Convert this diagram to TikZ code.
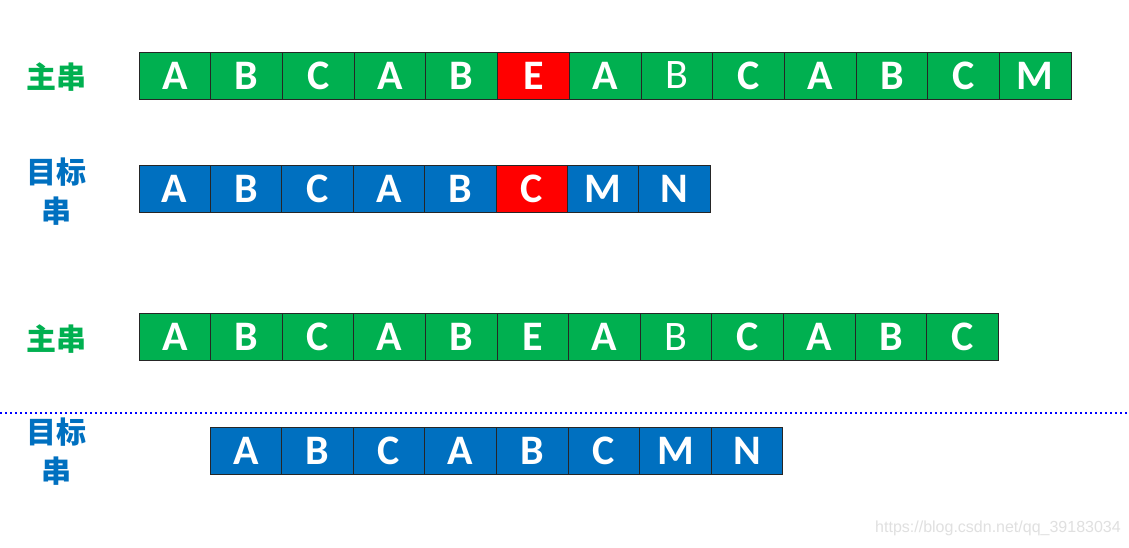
\documentclass[tikz,border=0pt]{standalone}
\usepackage{fontspec}
\setmainfont{Carlito}
\newfontfamily\cjk{Noto Sans CJK SC}
\newfontfamily\wmfont{Liberation Sans}
\usepackage{xcolor}
\usepackage{tikz}
\definecolor{mgreen}{HTML}{00B050}
\definecolor{tblue}{HTML}{0070C0}
\definecolor{mred}{HTML}{FF0000}

\begin{document}
\begin{tikzpicture}[x=1pt, y=1pt,
    cell/.style={draw=black!85, line width=.8pt, minimum width=71.7pt, minimum height=47pt,
        inner sep=0pt, outer sep=0pt, text=white, font=\fontsize{42}{42}\selectfont\bfseries},
    thin/.style={font=\fontsize{42}{42}\selectfont\mdseries},
    mcell/.style={cell, fill=mgreen},
    tcell/.style={cell, fill=tblue},
    rcell/.style={cell, fill=mred},
    tag/.style={font=\fontsize{30}{39}\selectfont\cjk\bfseries, align=center, inner sep=0pt}]
            \useasboundingbox[fill=white] (0, 0) rectangle (1129, -547);

            % first try: mismatch at E / C
            \node[tag, text=mgreen] (lm1) at (57, -77) {主串};
            \node[mcell] (m1) at (174.85, -75.5) {A};
            \node[mcell] (m2) at (246.55, -75.5) {B};
            \node[mcell] (m3) at (318.25, -75.5) {C};
            \node[mcell] (m4) at (389.95, -75.5) {A};
            \node[mcell] (m5) at (461.65, -75.5) {B};
            \node[rcell] (m6) at (533.35, -75.5) {E};
            \node[mcell] (m7) at (605.05, -75.5) {A};
            \node[mcell, thin] (m8) at (676.75, -75.5) {B};
            \node[mcell] (m9) at (748.45, -75.5) {C};
            \node[mcell] (m10) at (820.15, -75.5) {A};
            \node[mcell] (m11) at (891.85, -75.5) {B};
            \node[mcell] (m12) at (963.55, -75.5) {C};
            \node[mcell] (m13) at (1035.25, -75.5) {M};

            \node[tag, text=tblue] (lt1) at (57, -191.5) {目标\\串};
            \node[tcell, minimum width=71.4pt] (t1) at (174.7, -189) {A};
            \node[tcell, minimum width=71.4pt] (t2) at (246.1, -189) {B};
            \node[tcell, minimum width=71.4pt] (t3) at (317.5, -189) {C};
            \node[tcell, minimum width=71.4pt] (t4) at (388.9, -189) {A};
            \node[tcell, minimum width=71.4pt] (t5) at (460.3, -189) {B};
            \node[rcell, minimum width=71.4pt] (t6) at (531.7, -189) {C};
            \node[tcell, minimum width=71.4pt] (t7) at (603.1, -189) {M};
            \node[tcell, minimum width=71.4pt] (t8) at (674.5, -189) {N};

            % second try: target moved one cell right
            \node[tag, text=mgreen] (lm2) at (57, -339) {主串};
            \node[mcell, minimum width=71.6pt] (n1) at (174.8, -337) {A};
            \node[mcell, minimum width=71.6pt] (n2) at (246.4, -337) {B};
            \node[mcell, minimum width=71.6pt] (n3) at (318.0, -337) {C};
            \node[mcell, minimum width=71.6pt] (n4) at (389.6, -337) {A};
            \node[mcell, minimum width=71.6pt] (n5) at (461.2, -337) {B};
            \node[mcell, minimum width=71.6pt] (n6) at (532.8, -337) {E};
            \node[mcell, minimum width=71.6pt] (n7) at (604.4, -337) {A};
            \node[mcell, minimum width=71.6pt, thin] (n8) at (676.0, -337) {B};
            \node[mcell, minimum width=71.6pt] (n9) at (747.6, -337) {C};
            \node[mcell, minimum width=71.6pt] (n10) at (819.2, -337) {A};
            \node[mcell, minimum width=71.6pt] (n11) at (890.8, -337) {B};
            \node[mcell, minimum width=71.6pt] (n12) at (962.4, -337) {C};

            \coordinate (sepL) at (0, -413);
            \coordinate (sepR) at (1127, -413);
            \draw[blue, line width=1.2pt, dash pattern=on 1.8pt off 3.2pt] (sepL) -- (sepR);

            \node[tag, text=tblue] (lt2) at (57, -452) {目标\\串};
            \node[tcell, minimum width=71.6pt] (s1) at (245.8, -451) {A};
            \node[tcell, minimum width=71.6pt] (s2) at (317.4, -451) {B};
            \node[tcell, minimum width=71.6pt] (s3) at (389.0, -451) {C};
            \node[tcell, minimum width=71.6pt] (s4) at (460.6, -451) {A};
            \node[tcell, minimum width=71.6pt] (s5) at (532.2, -451) {B};
            \node[tcell, minimum width=71.6pt] (s6) at (603.8, -451) {C};
            \node[tcell, minimum width=71.6pt] (s7) at (675.4, -451) {M};
            \node[tcell, minimum width=71.6pt] (s8) at (747.0, -451) {N};

            \node[text=black!12, font=\wmfont\fontsize{16}{16}\selectfont, inner sep=0pt] (wm) at (998, -528) {https://blog.csdn.net/qq\_39183034};
\end{tikzpicture}
\end{document}
